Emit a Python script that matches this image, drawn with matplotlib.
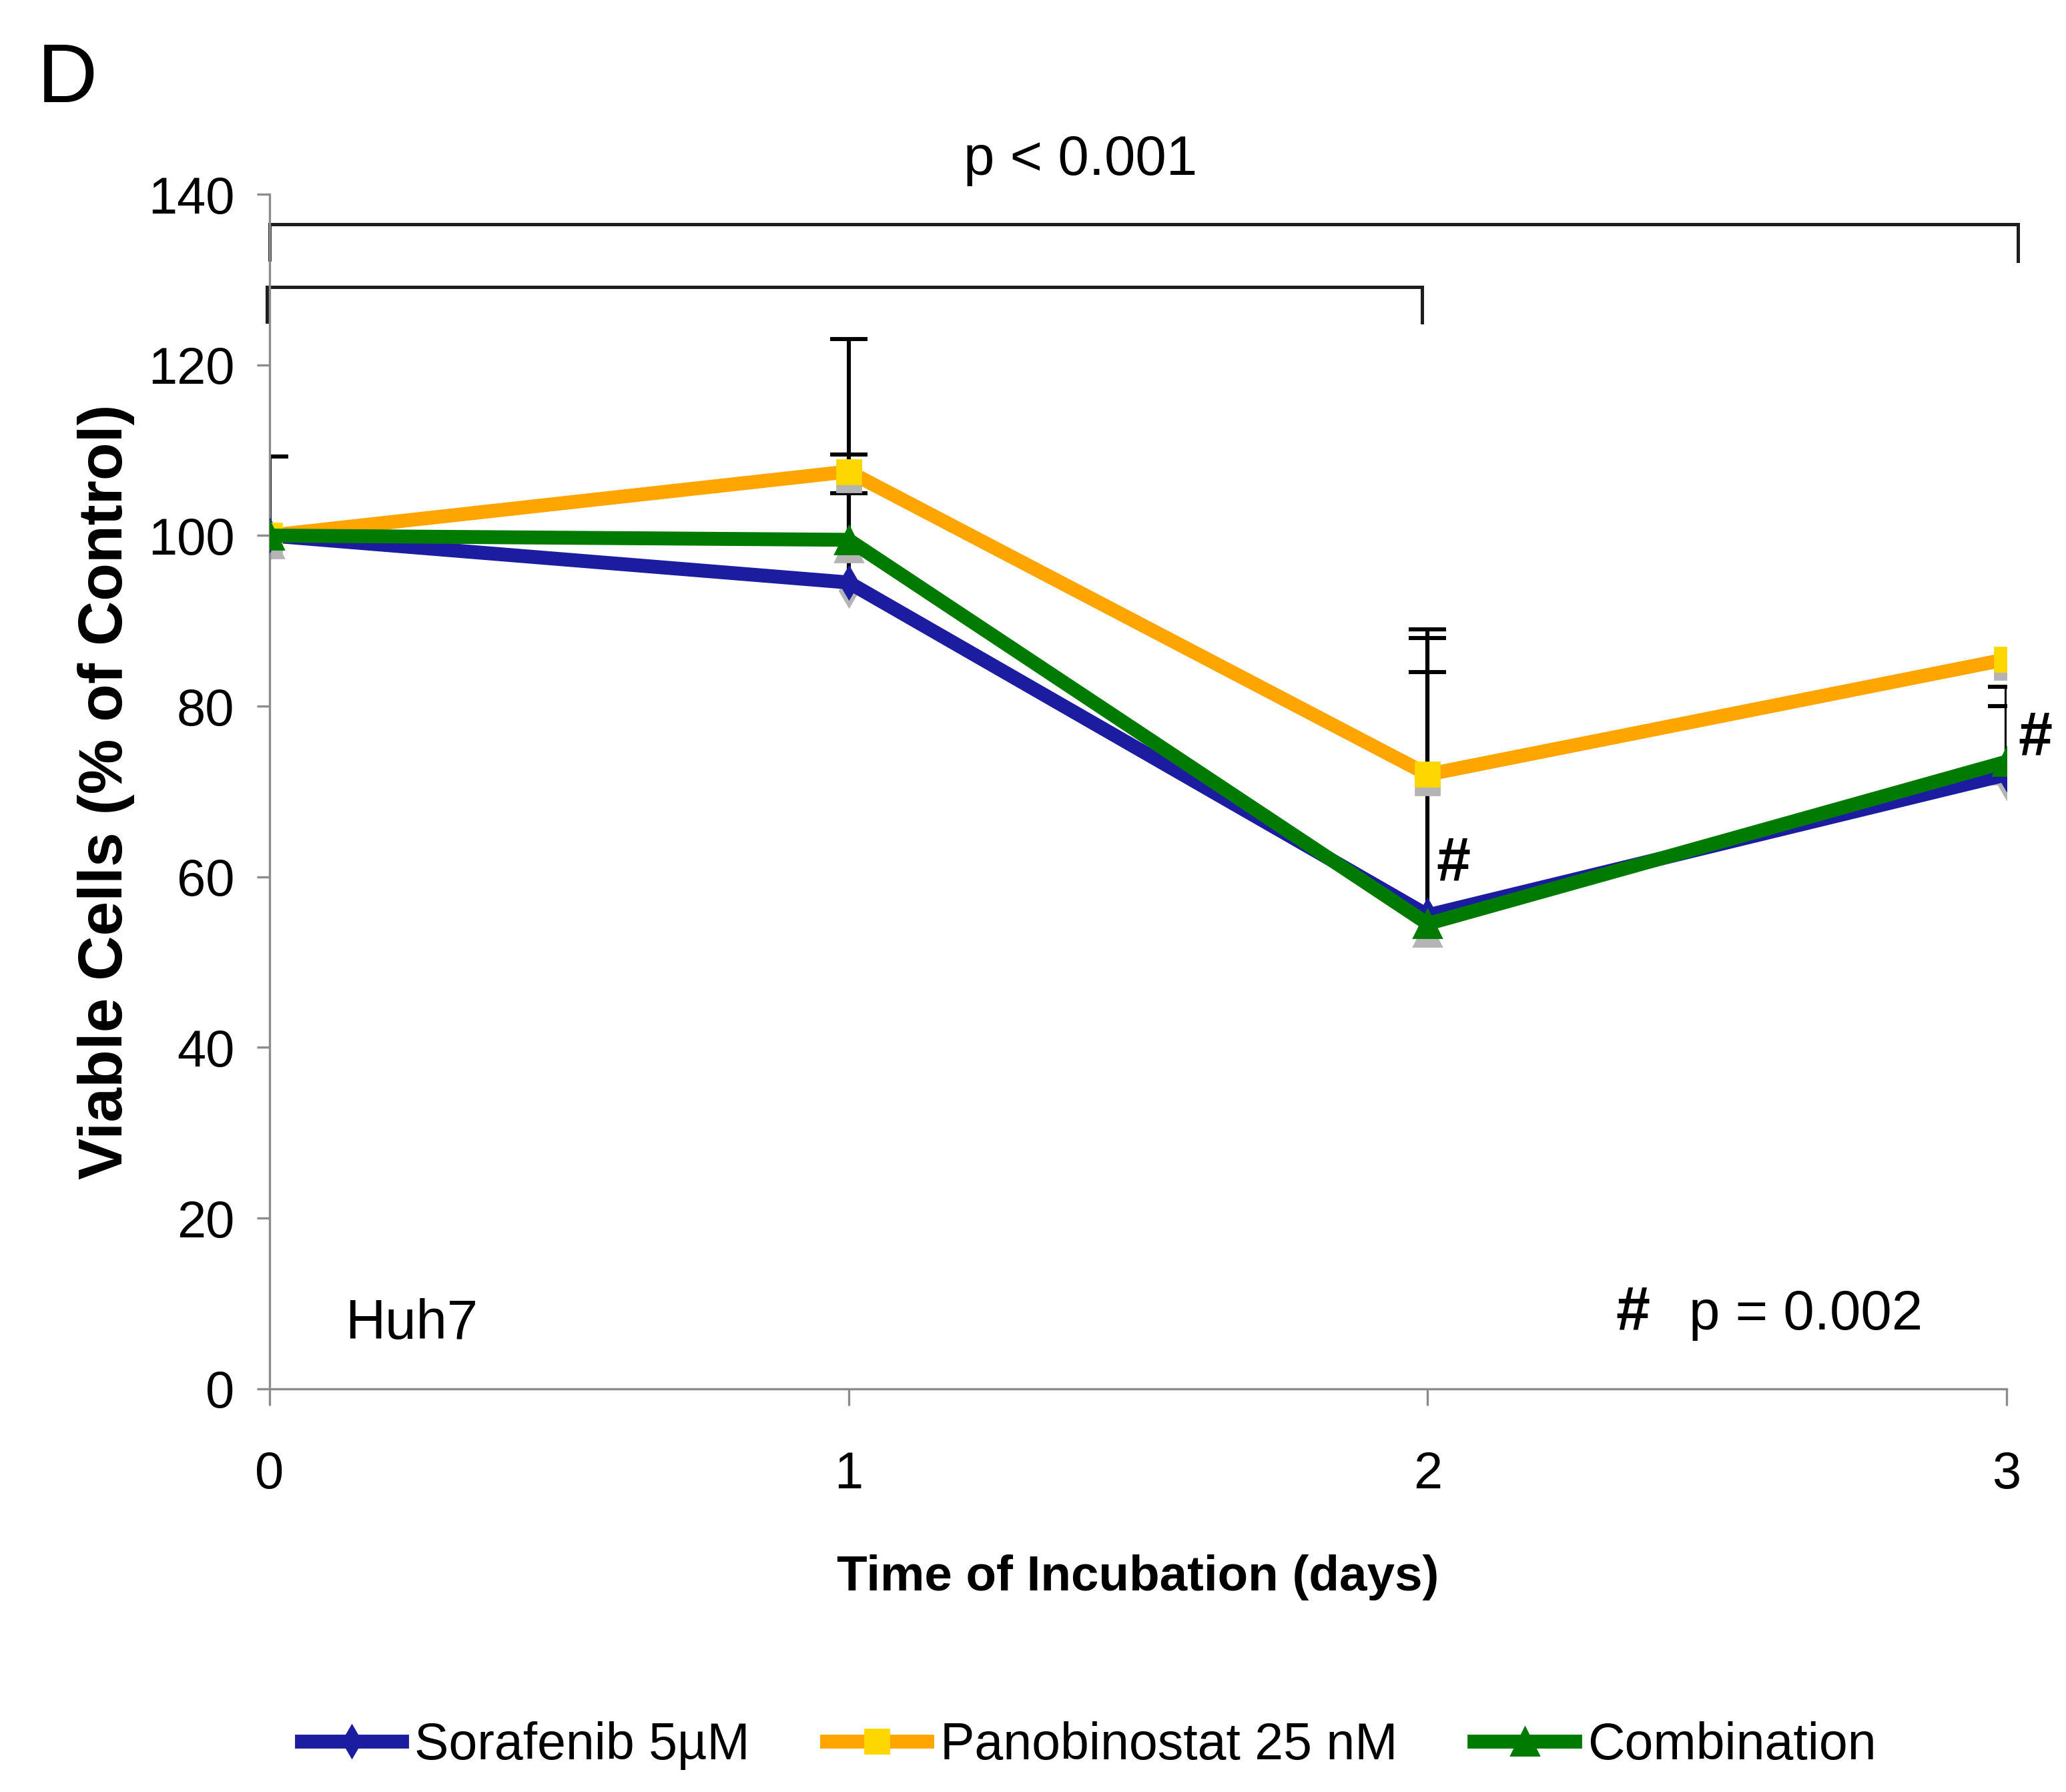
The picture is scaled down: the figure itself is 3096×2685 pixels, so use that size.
import numpy as np
import matplotlib
matplotlib.use("Agg")
import matplotlib.pyplot as plt
import matplotlib.transforms as mtransforms
from matplotlib import font_manager

plt.rcParams['font.family'] = ['Liberation Sans', 'DejaVu Sans']

# the original uses Arial Narrow for the legend and x label; shrink if no narrow font
try:
    font_manager.findfont('Liberation Sans Narrow', fallback_to_default=False)
    NARROW, NSCALE = ['Liberation Sans Narrow'], 1.0
except ValueError:
    NARROW, NSCALE = ['Liberation Sans'], 0.84

# data
days = [0, 1, 2, 3]
sorafenib = [100, 94.5, 55.5, 72]
panobinostat = [100, 107.5, 72, 85.5]
combination = [100, 99.5, 54.5, 73.5]

# upper error bars only (0 = no visible bar)
sorafenib_err = [0, 15, 32.5, 10.3]
panobinostat_err = [9.3, 15.5, 17, 0]
combination_err = [0, 5.5, 29.5, 6.5]

labels = ['Sorafenib 5\u00b5M', 'Panobinostat 25 nM', 'Combination']
yticks = [0, 20, 40, 60, 80, 100, 120, 140]

fig = plt.figure(figsize=(15.48, 13.425), dpi=200)
ax = fig.add_axes([0.1305, 0.225, 0.8408, 0.6666])

series = [
    (sorafenib, sorafenib_err, '#1c1ca0', '#1c1ca0', 'd', 12),
    (panobinostat, panobinostat_err, '#ffa500', '#ffd700', 's', 13),
    (combination, combination_err, '#007a00', '#007a00', '^', 15),
]

# error bars first, under the lines
for y, err, lc, mc, mk, ms in series:
    x = np.array(days, dtype=float)
    y = np.array(y, dtype=float)
    e = np.array(err, dtype=float)
    keep = e > 0
    eb = ax.errorbar(x[keep], y[keep], yerr=[np.zeros(keep.sum()), e[keep]],
                     fmt='none', ecolor='black', elinewidth=2.2,
                     capsize=10, capthick=2.2, zorder=2)
    eb[1][0].set_visible(False)

# grey marker shadows
shadow = mtransforms.offset_copy(ax.transData, fig=fig, x=0, y=-4.5, units='points')
for y, err, lc, mc, mk, ms in series:
    ax.plot(days, y, linestyle='none', marker=mk, markersize=ms,
            color='#b4b4b4', transform=shadow, zorder=2.5)

handles = []
for (y, err, lc, mc, mk, ms), lab in zip(series, labels):
    h, = ax.plot(days, y, color=lc, lw=7.5, marker=mk, markersize=ms,
                 markerfacecolor=mc, markeredgecolor=mc, label=lab,
                 solid_joinstyle='miter', zorder=3)
    handles.append(h)

ax.set_xlim(0, 3)
ax.set_ylim(0, 140)
ax.set_xticks(days)
ax.set_yticks(yticks)
for s in ['top', 'right']:
    ax.spines[s].set_visible(False)
for s in ['left', 'bottom']:
    ax.spines[s].set_color('#8c8c8c')
    ax.spines[s].set_linewidth(1.2)
ax.tick_params(axis='both', colors='#8c8c8c', width=1.2, labelcolor='black', labelsize=28)
ax.tick_params(axis='y', length=7, pad=12)
ax.tick_params(axis='x', length=9, pad=24)

ax.set_xlabel('Time of Incubation (days)', family=NARROW, fontweight='bold',
              fontsize=32 * NSCALE, labelpad=30)
ax.set_ylabel('Viable Cells (% of Control)', fontweight='bold', fontsize=33.5, labelpad=7)

# significance brackets
bk = dict(color='#1e1e1e', lw=1.8, clip_on=False, solid_joinstyle='miter')
ax.plot([0, 0, 3.02, 3.02], [132.3, 136.5, 136.5, 132.2], **bk)
ax.plot([-0.005, -0.005, 1.99, 1.99], [125.1, 129.1, 129.1, 125.0], **bk)
ax.text(1.40, 144, 'p < 0.001', fontsize=30, ha='center', va='center', clip_on=False)

ax.text(2.015, 61.5, '#', fontsize=33, fontweight='bold', ha='left', va='center')
ax.text(3.02, 76.2, '#', fontsize=33, fontweight='bold', ha='left', va='center', clip_on=False)

ax.text(0.13, 7.6, 'Huh7', fontsize=30, ha='left', va='center')
ax.text(2.855, 8.7, 'p = 0.002', fontsize=30, ha='right', va='center')
ax.text(2.325, 8.9, '#', fontsize=33, fontweight='bold', ha='left', va='center')

fig.text(0.018, 0.955, 'D', fontsize=45, ha='left', va='center')

leg_size = 34 * (NSCALE if NSCALE == 1.0 else 0.815)
fig.legend(handles=handles, loc='center', bbox_to_anchor=(0.527, 0.026), ncol=3,
           frameon=False, prop={'family': NARROW, 'size': leg_size},
           handlelength=1.95, handletextpad=0.25, columnspacing=1.5)

fig.savefig('out.png', dpi=200)
